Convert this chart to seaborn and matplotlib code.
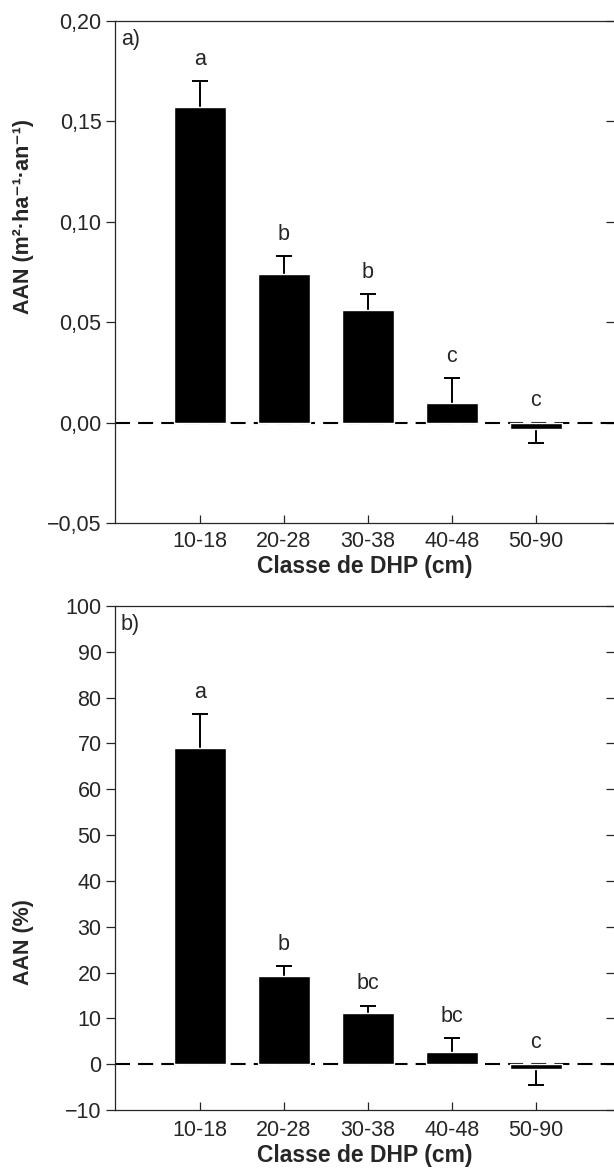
import matplotlib
matplotlib.use("Agg")
import matplotlib.pyplot as plt
import seaborn as sns
import pandas as pd
import numpy as np

# Données
classes = ["10-18", "20-28", "30-38", "40-48", "50-90"]

aan_abs = [0.157, 0.074, 0.056, 0.010, -0.003]
se_abs = [0.013, 0.009, 0.008, 0.012, 0.007]
lettres_abs = ["a", "b", "b", "c", "c"]

aan_pct = [68.9, 19.3, 11.2, 2.7, -1.0]
se_pct = [7.5, 2.2, 1.6, 3.0, 3.5]
lettres_pct = ["a", "b", "bc", "bc", "c"]

yticks_abs = [-0.05, 0.0, 0.05, 0.10, 0.15, 0.20]
yticklabels_abs = ["\u22120,05", "0,00", "0,05", "0,10", "0,15", "0,20"]
yticks_pct = [-10, 0, 10, 20, 30, 40, 50, 60, 70, 80, 90, 100]
yticklabels_pct = ["\u221210", "0", "10", "20", "30", "40", "50", "60", "70", "80", "90", "100"]

FS = 15.5

sns.set_style("ticks")
plt.rcParams['font.family'] = ['Liberation Sans', 'DejaVu Sans']
plt.rcParams['axes.linewidth'] = 0.9

fig = plt.figure(figsize=(6.14, 11.71), dpi=100)
ax_a = fig.add_axes([0.187, 0.5534, 0.813, 0.4286])
ax_b = fig.add_axes([0.187, 0.0521, 0.813, 0.4304])


def panneau(ax, vals, se, lettres, yticks, yticklabels, ylim, ylabel, label_y, tag, xl_pad):
    df = pd.DataFrame({"classe": classes, "val": vals})
    ax.axhline(0, color="black", lw=1.5, linestyle=(0, (7.2, 3.9)), zorder=1)
    sns.barplot(data=df, x="classe", y="val", color="black", width=0.62,
                saturation=1, errorbar=None, ax=ax, zorder=3)

    # erreur uniquement dans le sens de la barre (tige + barre terminale)
    x = np.arange(len(vals))
    bout = [v + s if v >= 0 else v - s for v, s in zip(vals, se)]
    ax.vlines(x, vals, bout, color="black", lw=1.4, zorder=2)
    ax.plot(x, bout, ls="none", marker="_", markersize=11, mew=1.4,
            color="black", zorder=2)

    # lettres de signification
    for xi, v, b, l in zip(x, vals, bout, lettres):
        top = max(b, 0)
        ax.annotate(l, (xi, top), xytext=(0, 8), textcoords="offset points",
                    ha="center", va="bottom", fontsize=FS)

    ax.set_xlim(-1.01, 4.93)
    ax.set_ylim(*ylim)
    ax.set_yticks(yticks)
    ax.set_yticklabels(yticklabels)
    ax.tick_params(axis="y", direction="out", length=6.5, width=0.9,
                   labelsize=FS, pad=3, right=True)
    ax.tick_params(axis="x", direction="in", length=6, width=0.9,
                   labelsize=FS, pad=xl_pad)
    # ticks de droite vers l'intérieur
    for t in ax.yaxis.get_major_ticks():
        t.tick2line.set_marker(0)
        t.tick2line.set_markersize(6)
    ax.spines["right"].set_visible(False)
    ax.spines["top"].set_visible(True)

    ax.set_xlabel("Classe de DHP (cm)", fontsize=FS + 1, fontweight="bold",
                  labelpad=2)
    ax.set_ylabel(ylabel, fontsize=FS, fontweight="bold")
    ax.yaxis.set_label_coords(-0.162, label_y)
    ax.text(0.012, 0.985, tag, transform=ax.transAxes, ha="left", va="top",
            fontsize=FS)


panneau(ax_a, aan_abs, se_abs, lettres_abs, yticks_abs, yticklabels_abs,
        (-0.05, 0.20), "AAN (m\u00b2\u00b7ha\u207b\u00b9\u00b7an\u207b\u00b9)", 0.61, "a)", 6)
panneau(ax_b, aan_pct, se_pct, lettres_pct, yticks_pct, yticklabels_pct,
        (-10, 100), "AAN (%)", 0.333, "b)", 7.5)

fig.savefig("out.png", dpi=100)
